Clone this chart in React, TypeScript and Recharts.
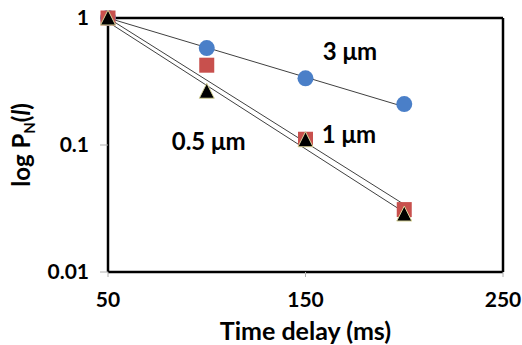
import React from 'react';
import {
  ComposedChart, Line, Scatter, XAxis, YAxis, ReferenceLine, ReferenceDot
} from 'recharts';

// measured points (time delay ms, P_N)
const circles3um = [
  { x: 50, y: 1 },
  { x: 100, y: 0.58 },
  { x: 150, y: 0.335 },
  { x: 200, y: 0.21 },
];
const squares1um = [
  { x: 50, y: 1 },
  { x: 100, y: 0.425 },
  { x: 150, y: 0.111 },
  { x: 200, y: 0.031 },
];
const triangles05um = [
  { x: 50, y: 1 },
  { x: 100, y: 0.265 },
  { x: 150, y: 0.11 },
  { x: 200, y: 0.0286 },
];

// exponential trend lines (end points)
const fit3um = [{ x: 50, y: 1 }, { x: 200, y: 0.2 }];
const fit1um = [{ x: 50, y: 1 }, { x: 200, y: 0.034 }];
const fit05um = [{ x: 50, y: 0.93 }, { x: 200, y: 0.0295 }];

const xTicks = [50, 150, 250];
const yTicks = [0.01, 0.1, 1];

const annotations = [
  { text: '3 μm', x: 172.5, y: 0.54 },
  { text: '1 μm', x: 172, y: 0.12 },
  { text: '0.5 μm', x: 101, y: 0.106 },
];

const FONT = "Lato, 'Open Sans', sans-serif";

const CircleDot = (p: any) => (
  <circle cx={p.cx} cy={p.cy} r={8} fill="#4a7fc8" />
);
const SquareDot = (p: any) => (
  <rect x={p.cx - 7.5} y={p.cy - 7.5} width={15} height={15} fill="#c8504d" />
);
const TriangleDot = (p: any) => (
  <path
    d={`M${p.cx},${p.cy - 8} L${p.cx + 7.5},${p.cy + 7} L${p.cx - 7.5},${p.cy + 7} Z`}
    fill="#000"
    stroke="#d8d49a"
    strokeWidth={1}
  />
);

export default function App() {
  return (
    <div style={{ position: 'absolute', left: 0, top: 0, background: '#fff' }}>
      <ComposedChart
        width={522}
        height={345}
        margin={{ top: 18, right: 19, bottom: 0, left: 0 }}
        style={{ fontFamily: FONT }}
      >
        <XAxis
          dataKey="x"
          type="number"
          domain={[50, 250]}
          ticks={xTicks}
          height={73}
          axisLine={{ stroke: '#000', strokeWidth: 2.5 }}
          tickLine={{ stroke: '#b0b0b0' }}
          tickSize={5}
          tickMargin={15}
          tick={{ fill: '#000', fontSize: 21, fontWeight: 700, fontFamily: FONT }}
          label={{
            content: (p: any) => {
              const vb = p.viewBox;
              return (
                <text x={vb.x + vb.width / 2} y={vb.y + 68} textAnchor="middle"
                  fontSize={25} fontWeight={700} fontFamily={FONT} fill="#000">
                  Time delay (ms)
                </text>
              );
            },
          }}
        />
        <YAxis
          type="number"
          scale="log"
          domain={[0.01, 1]}
          ticks={yTicks}
          width={108}
          axisLine={{ stroke: '#000', strokeWidth: 2.5 }}
          tickLine={{ stroke: '#b0b0b0' }}
          tickSize={8}
          tickMargin={11}
          tick={{ fill: '#000', fontSize: 21, fontWeight: 700, fontFamily: FONT }}
          label={{
            content: (p: any) => {
              const vb = p.viewBox;
              const cx = 30;
              const cy = vb.y + vb.height / 2;
              return (
                <text x={cx} y={cy} textAnchor="middle" transform={`rotate(-90 ${cx} ${cy})`}
                  fontSize={24} fontWeight={700} fontFamily={FONT} fill="#000">
                  log P<tspan fontSize={15} dy={5}>N</tspan>
                  <tspan dy={-5}>(</tspan>
                  <tspan fontStyle="italic">l</tspan>
                  <tspan>)</tspan>
                </text>
              );
            },
          }}
        />
        <ReferenceLine y={1} stroke="#000" strokeWidth={2.5} />
        <ReferenceLine x={250} stroke="#000" strokeWidth={2.5} />

        <Line data={fit3um} dataKey="y" stroke="#404040" strokeWidth={1} dot={false} isAnimationActive={false} />
        <Line data={fit1um} dataKey="y" stroke="#404040" strokeWidth={1} dot={false} isAnimationActive={false} />
        <Line data={fit05um} dataKey="y" stroke="#404040" strokeWidth={1} dot={false} isAnimationActive={false} />

        <Scatter data={circles3um} dataKey="y" shape={CircleDot} isAnimationActive={false} />
        <Scatter data={squares1um} dataKey="y" shape={SquareDot} isAnimationActive={false} />
        <Scatter data={triangles05um} dataKey="y" shape={TriangleDot} isAnimationActive={false} />

        {annotations.map((a) => (
          <ReferenceDot
            key={a.text}
            x={a.x}
            y={a.y}
            r={0}
            shape={(p: any) => (
              <text x={p.cx} y={p.cy} dy="0.35em" textAnchor="middle"
                fontSize={24} fontWeight={700} fontFamily={FONT} fill="#000">
                {a.text}
              </text>
            )}
          />
        ))}
      </ComposedChart>
    </div>
  );
}
